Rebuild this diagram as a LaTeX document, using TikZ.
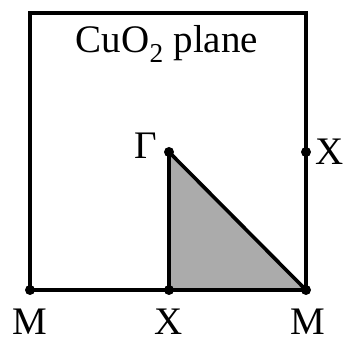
\documentclass[tikz,border=0pt]{standalone}
\usepackage{fontspec}
\setmainfont{Liberation Serif}
\usetikzlibrary{positioning}

\begin{document}
\begin{tikzpicture}[
  x=1pt, y=1pt,
  edge/.style={line width=3.6pt},
  dot/.style={circle, fill, inner sep=0pt, minimum size=10pt},
  lbl/.style={font=\fontsize{39}{39}\selectfont, inner sep=0pt}
]
\useasboundingbox (0,0) rectangle (346,342);

% corners and symmetry points
\coordinate (ml) at (30,52);
\coordinate (tr) at (306,329);
\coordinate (M) at (306,52);
\coordinate (Xb) at (169,52);
\coordinate (Xr) at (306,190);
\coordinate (G) at (169,190);

% irreducible wedge
\fill[gray!66] (G) -- (Xb) -- (M) -- cycle;

\draw[edge] (ml) rectangle (tr);
\draw[edge] (G) -- (Xb);
\draw[edge] (G) -- (M);

\node[dot] (dml) at (ml) {};
\node[dot] (dM) at (M) {};
\node[dot] (dXb) at (Xb) {};
\node[dot] (dXr) at (Xr) {};
\node[dot] (dG) at (G) {};

\node[lbl] (lml) at (30,20) {M};
\node[lbl] (lXb) at (169,20) {X};
\node[lbl] (lM) at (308,20) {M};
\node[lbl, right=4pt of dXr] (lXr) {X};
\node[lbl, anchor=east] (lG) at (157,196) {Γ};
\node[lbl] (title) at (167,298) {CuO\textsubscript{2} plane};
\end{tikzpicture}
\end{document}
